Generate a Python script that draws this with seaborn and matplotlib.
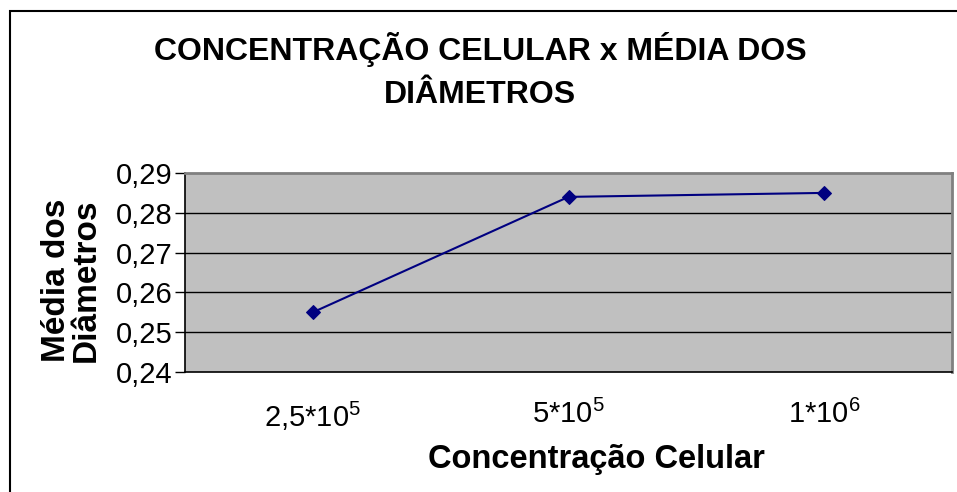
import matplotlib
matplotlib.use("Agg")
import matplotlib.pyplot as plt
import seaborn as sns
import pandas as pd
from matplotlib.patches import Rectangle

categories = ["2,5*10^5", "5*10^5", "1*10^6"]
tick_labels = [r"$\mathregular{2{,}5{*}10^5}$", r"$\mathregular{5{*}10^5}$", r"$\mathregular{1{*}10^6}$"]
values = [0.255, 0.284, 0.285]
y_ticks = [0.24, 0.25, 0.26, 0.27, 0.28, 0.29]
y_tick_labels = ["0,24", "0,25", "0,26", "0,27", "0,28", "0,29"]

sns.set_theme(style="white")
plt.rcParams["font.family"] = ["Liberation Sans", "DejaVu Sans"]
plt.rcParams["mathtext.default"] = "regular"
plt.rcParams["text.color"] = "black"
plt.rcParams["axes.labelcolor"] = "black"
plt.rcParams["xtick.color"] = "black"
plt.rcParams["ytick.color"] = "black"

df = pd.DataFrame({"cat": categories, "val": values})

fig = plt.figure(figsize=(9.57, 4.92), dpi=100)
ax = fig.add_axes([185/957, 1-372/492, (952-185)/957, (372-173)/492])
ax.set_facecolor("#C0C0C0")

sns.lineplot(data=df, x="cat", y="val", ax=ax, color="#000080", lw=1.5,
             marker="D", markersize=7, markeredgecolor="#000080", sort=False)

ax.set_xlim(-0.5, 2.5)
ax.set_ylim(0.24, 0.29)
ax.set_yticks(y_ticks)
ax.set_yticklabels(y_tick_labels, fontsize=21)
for y in y_ticks[1:-1]:
    ax.axhline(y, color="black", lw=1.0, zorder=1)

ax.set_xticks([0, 1, 2])
ax.set_xticklabels(tick_labels, fontsize=21)
ax.set_xticks([-0.5, 0.5, 1.5, 2.5], minor=True)
ax.tick_params(axis="x", which="major", length=0, pad=20, colors="black")
ax.tick_params(axis="x", which="minor", length=8, width=1, color="black", direction="out")
ax.tick_params(axis="y", length=7, width=1, color="black", direction="out", pad=2, left=True, colors="black")

for s in ["left", "bottom"]:
    ax.spines[s].set_color("black")
    ax.spines[s].set_linewidth(1.2)
for s in ["top", "right"]:
    ax.spines[s].set_color("#808080")
    ax.spines[s].set_linewidth(2)

ax.set_xlabel("Concentração Celular", fontsize=23.5, fontweight="bold", color="black")
ax.xaxis.set_label_coords((596-185)/767, -(444-372)/199)
ax.set_ylabel("Média dos\nDiâmetros", fontsize=24, fontweight="bold",
              linespacing=0.95, color="black")
ax.yaxis.set_label_coords(-(185-102)/767, (372-280)/199)

fig.text(480/957, 1-71/492, "CONCENTRAÇÃO CELULAR x MÉDIA DOS\nDIÂMETROS",
         ha="center", va="center", fontsize=23, fontweight="bold", linespacing=1.55, color="black")

fig.patches.append(Rectangle((9.5/957, -0.1), 1.2, (492-11)/492 + 0.1, transform=fig.transFigure,
                             fill=False, edgecolor="black", lw=1.5, clip_on=False))

fig.savefig("out.png", dpi=100, facecolor="white")
